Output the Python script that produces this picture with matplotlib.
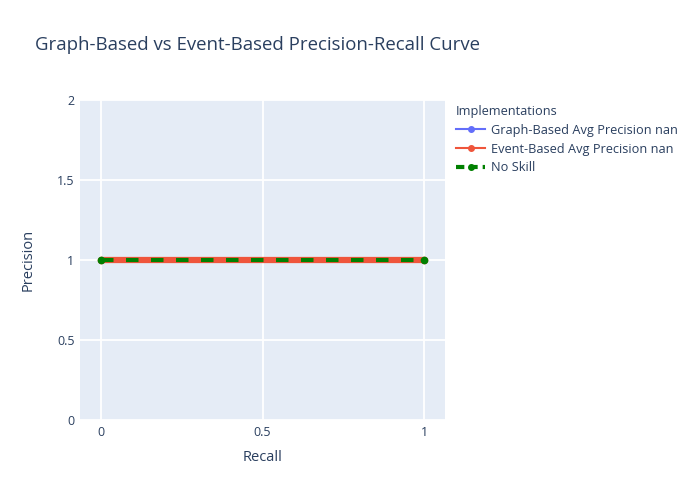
import matplotlib
matplotlib.use("Agg")
import matplotlib.pyplot as plt
from matplotlib.lines import Line2D

graph_recall = [0.0, 1.0]
graph_precision = [1.0, 1.0]
event_recall = [0.0, 1.0]
event_precision = [1.0, 1.0]
noskill_recall = [0.0, 1.0]
noskill_precision = [1.0, 1.0]

xticks = [0, 0.5, 1]
xticklabels = ["0", "0.5", "1"]
yticks = [0, 0.5, 1, 1.5, 2]
yticklabels = ["0", "0.5", "1", "1.5", "2"]

plt.rcParams['font.family'] = ['Open Sans', 'DejaVu Sans']
txt = '#2a3f5f'
W, H = 700, 500
fig = plt.figure(figsize=(7, 5), dpi=100)
ax = fig.add_axes([80 / W, 1 - 420 / H, 365 / W, 320 / H])
ax.set_facecolor('#e5ecf6')
for s in ax.spines.values():
    s.set_visible(False)

ax.plot(graph_recall, graph_precision, color='#636efa', lw=1.5, marker='o', ms=4, zorder=2)
ax.plot(event_recall, event_precision, color='#ef553b', lw=4.5, solid_capstyle='butt',
        marker='o', ms=4.5, zorder=3)
ax.plot(noskill_recall, noskill_precision, color='green', lw=3, dashes=(3, 3),
        marker='o', ms=4.5, zorder=4)

ax.set_xlim(-0.065, 1.065)
ax.set_ylim(0, 2)
ax.set_xticks(xticks)
ax.set_xticklabels(xticklabels)
ax.set_yticks(yticks)
ax.set_yticklabels(yticklabels)
ax.grid(True, color='white', lw=1.3)
ax.set_axisbelow(True)
ax.tick_params(length=0, colors=txt, labelsize=9, pad=4)
ax.set_xlabel('Recall', color=txt, fontsize=10.5, labelpad=8)
ax.set_ylabel('Precision', color=txt, fontsize=10.5, labelpad=15)

fig.text(35 / W, 1 - 45 / H, 'Graph-Based vs Event-Based Precision-Recall Curve',
         color=txt, fontsize=13.4, va='center', ha='left')

handles = [
    Line2D([], [], color='#636efa', lw=1.5, marker='o', ms=4),
    Line2D([], [], color='#ef553b', lw=1.5, marker='o', ms=4),
    Line2D([], [], color='green', lw=3, dashes=(2, 1.2), marker='o', ms=4),
]
labels = ['Graph-Based Avg Precision nan', 'Event-Based Avg Precision nan', 'No Skill']
leg = fig.legend(handles, labels, title='Implementations', loc='upper left',
                 bbox_to_anchor=(456 / W, 1 - 105 / H), frameon=False,
                 fontsize=9.2, title_fontsize=9.2, handlelength=2.3, handletextpad=0.45,
                 labelspacing=0.45, alignment='left', borderaxespad=0, borderpad=0)
for t in leg.get_texts():
    t.set_color(txt)
leg.get_title().set_color(txt)

fig.savefig('out.png', dpi=100)
